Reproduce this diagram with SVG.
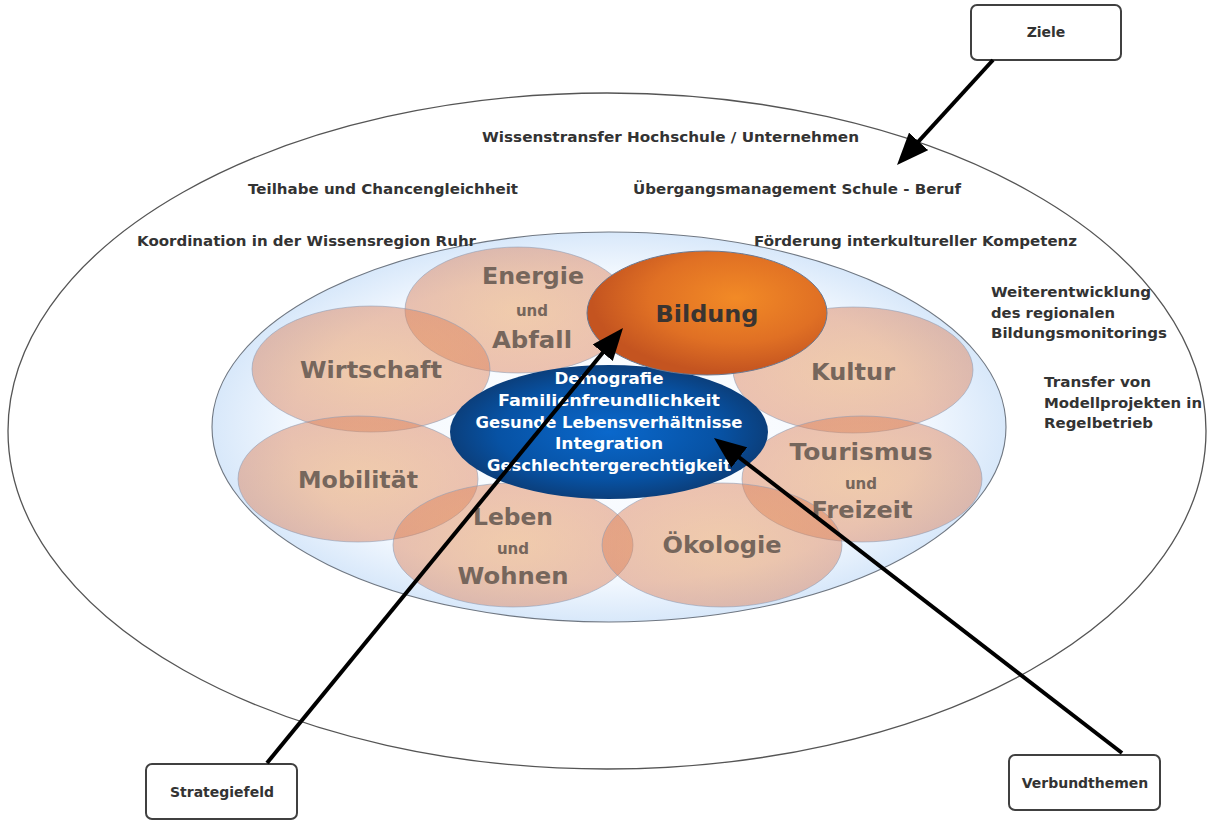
<svg xmlns="http://www.w3.org/2000/svg" width="1210" height="820" viewBox="0 0 1210 820">
  <defs>
    <radialGradient id="gInner" cx="0.5" cy="0.5" r="0.5">
      <stop offset="0" stop-color="#ffffff"/>
      <stop offset="0.8" stop-color="#f1f7fe"/>
      <stop offset="1" stop-color="#d8e8fa"/>
    </radialGradient>
    <radialGradient id="gPetal" cx="0.5" cy="0.5" r="0.5">
      <stop offset="0" stop-color="#ec9448" stop-opacity="0.45"/>
      <stop offset="1" stop-color="#dc8058" stop-opacity="0.47"/>
    </radialGradient>
    <radialGradient id="gBildung" cx="0.62" cy="0.38" r="0.6">
      <stop offset="0" stop-color="#f28a26"/>
      <stop offset="0.6" stop-color="#e07024"/>
      <stop offset="1" stop-color="#c45420"/>
    </radialGradient>
    <radialGradient id="gCore" cx="0.5" cy="0.5" r="0.5">
      <stop offset="0" stop-color="#0a68cc"/>
      <stop offset="0.7" stop-color="#0752a4"/>
      <stop offset="1" stop-color="#0b3f7c"/>
    </radialGradient>
    <marker id="head" markerUnits="userSpaceOnUse" markerWidth="32" markerHeight="26" refX="20" refY="13" orient="auto">
      <path d="M0,0 L32,13 L0,26 Z" fill="#000"/>
    </marker>
  </defs>
  <style>
    .txt { font-family: "DejaVu Sans", Verdana, sans-serif; font-weight: bold; }
    .goal { font-size: 14px; fill: #333333; }
    .petal { fill: url(#gPetal); stroke: #8a9bb5; stroke-opacity: 0.55; stroke-width: 1; }
    .plabel { font-size: 23px; fill: #76665c; text-anchor: middle; }
    .und { font-size: 15px; fill: #76665c; text-anchor: middle; }
    .core { font-size: 16px; fill: #ffffff; text-anchor: middle; }
    .box { fill: #ffffff; stroke: #404040; stroke-width: 2; }
    .boxlabel { font-size: 14px; fill: #333333; text-anchor: middle; }
    .conn { stroke: #000000; stroke-width: 4; fill: none; marker-end: url(#head); }
  </style>

  <rect width="1210" height="820" fill="#ffffff"/>

  <!-- outer ring of goals -->
  <g id="outer">
    <ellipse cx="607" cy="431" rx="599" ry="338" fill="none" stroke="#555555" stroke-width="1.3"/>
  </g>

  <!-- inner field of strategy areas -->
  <g id="inner">
    <ellipse cx="609" cy="427" rx="397" ry="195" fill="url(#gInner)" stroke="#6f7782" stroke-width="1.1"/>
  </g>

  <!-- petal shapes -->
  <g id="petal-energie"><ellipse class="petal" cx="518" cy="310" rx="113" ry="63"/></g>
  <g id="petal-wirtschaft"><ellipse class="petal" cx="371" cy="369" rx="119" ry="63"/></g>
  <g id="petal-kultur"><ellipse class="petal" cx="853" cy="370" rx="120" ry="63"/></g>
  <g id="petal-mobilitaet"><ellipse class="petal" cx="358" cy="479" rx="120" ry="63"/></g>
  <g id="petal-tourismus"><ellipse class="petal" cx="862" cy="479" rx="120" ry="63"/></g>
  <g id="petal-leben"><ellipse class="petal" cx="513" cy="545" rx="120" ry="62"/></g>
  <g id="petal-oekologie"><ellipse class="petal" cx="722" cy="545" rx="120" ry="62"/></g>

  <!-- core themes -->
  <g id="core">
    <ellipse cx="609" cy="432" rx="159" ry="67" fill="url(#gCore)"/>
    <text class="txt core" x="609" y="384" textLength="109" lengthAdjust="spacingAndGlyphs">Demografie</text>
    <text class="txt core" x="609" y="406" textLength="222" lengthAdjust="spacingAndGlyphs">Familienfreundlichkeit</text>
    <text class="txt core" x="609" y="428" textLength="267" lengthAdjust="spacingAndGlyphs">Gesunde Lebensverhältnisse</text>
    <text class="txt core" x="609" y="449" textLength="108" lengthAdjust="spacingAndGlyphs">Integration</text>
    <text class="txt core" x="609" y="471" textLength="244" lengthAdjust="spacingAndGlyphs">Geschlechtergerechtigkeit</text>
  </g>

  <!-- highlighted strategy field -->
  <g id="bildung">
    <ellipse cx="707" cy="313" rx="120" ry="62" fill="url(#gBildung)" stroke="#6a7891" stroke-width="1"/>
    <text class="txt plabel" x="707" y="322" style="fill:#3a3431" textLength="103" lengthAdjust="spacingAndGlyphs">Bildung</text>
  </g>

  <!-- petal labels -->
  <g id="labels">
    <text class="txt plabel" x="533" y="284" textLength="102" lengthAdjust="spacingAndGlyphs">Energie</text>
    <text class="txt und" x="532" y="316">und</text>
    <text class="txt plabel" x="532" y="348" textLength="80" lengthAdjust="spacingAndGlyphs">Abfall</text>
    <text class="txt plabel" x="371" y="378" textLength="142" lengthAdjust="spacingAndGlyphs">Wirtschaft</text>
    <text class="txt plabel" x="358" y="488" textLength="120" lengthAdjust="spacingAndGlyphs">Mobilität</text>
    <text class="txt plabel" x="853" y="380" textLength="84" lengthAdjust="spacingAndGlyphs">Kultur</text>
    <text class="txt plabel" x="861" y="460" textLength="143" lengthAdjust="spacingAndGlyphs">Tourismus</text>
    <text class="txt und" x="861" y="489">und</text>
    <text class="txt plabel" x="862" y="518" textLength="101" lengthAdjust="spacingAndGlyphs">Freizeit</text>
    <text class="txt plabel" x="513" y="525" textLength="80" lengthAdjust="spacingAndGlyphs">Leben</text>
    <text class="txt und" x="513" y="554">und</text>
    <text class="txt plabel" x="513" y="584" textLength="111" lengthAdjust="spacingAndGlyphs">Wohnen</text>
    <text class="txt plabel" x="722" y="553" textLength="119" lengthAdjust="spacingAndGlyphs">Ökologie</text>
  </g>

  <!-- goals in the outer ring -->
  <g id="goals">
    <text class="txt goal" x="482" y="142" textLength="377" lengthAdjust="spacingAndGlyphs">Wissenstransfer Hochschule / Unternehmen</text>
    <text class="txt goal" x="248" y="194" textLength="270" lengthAdjust="spacingAndGlyphs">Teilhabe und Chancengleichheit</text>
    <text class="txt goal" x="633" y="194" textLength="328" lengthAdjust="spacingAndGlyphs">Übergangsmanagement Schule - Beruf</text>
    <text class="txt goal" x="137" y="246" textLength="339" lengthAdjust="spacingAndGlyphs">Koordination in der Wissensregion Ruhr</text>
    <text class="txt goal" x="754" y="246" textLength="323" lengthAdjust="spacingAndGlyphs">Förderung interkultureller Kompetenz</text>
    <text class="txt goal" x="991" y="297" textLength="160" lengthAdjust="spacingAndGlyphs">Weiterentwicklung</text>
    <text class="txt goal" x="991" y="318" textLength="124" lengthAdjust="spacingAndGlyphs">des regionalen</text>
    <text class="txt goal" x="991" y="338" textLength="176" lengthAdjust="spacingAndGlyphs">Bildungsmonitorings</text>
    <text class="txt goal" x="1044" y="387" textLength="107" lengthAdjust="spacingAndGlyphs">Transfer von</text>
    <text class="txt goal" x="1044" y="408" textLength="158" lengthAdjust="spacingAndGlyphs">Modellprojekten in</text>
    <text class="txt goal" x="1044" y="428" textLength="109" lengthAdjust="spacingAndGlyphs">Regelbetrieb</text>
  </g>

  <!-- legend boxes -->
  <g id="box-ziele">
    <rect class="box" x="971" y="5" width="150" height="55" rx="6"/>
    <text class="txt boxlabel" x="1046" y="37">Ziele</text>
  </g>
  <g id="box-strategiefeld">
    <rect class="box" x="146" y="764" width="151" height="55" rx="6"/>
    <text class="txt boxlabel" x="222" y="797">Strategiefeld</text>
  </g>
  <g id="box-verbundthemen">
    <rect class="box" x="1009" y="755" width="151" height="55" rx="6"/>
    <text class="txt boxlabel" x="1085" y="788">Verbundthemen</text>
  </g>

  <!-- connectors -->
  <g id="connectors">
    <line class="conn" x1="993" y1="60" x2="905.1" y2="156.1"/>
    <line class="conn" x1="267" y1="763" x2="615.4" y2="337.3"/>
    <line class="conn" x1="1122" y1="753" x2="723.5" y2="445.3"/>
  </g>
</svg>
